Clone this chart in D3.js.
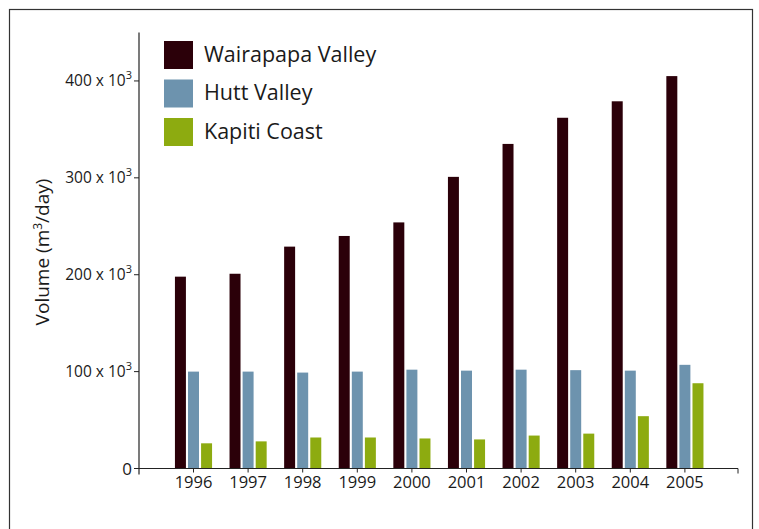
<!DOCTYPE html>
<html><head><meta charset="utf-8">
<script src="https://cdn.jsdelivr.net/npm/d3@7"></script>
<style>body{margin:0;background:#fff}svg{display:block}text{font-family:"Open Sans",sans-serif;fill:#1a1a1a}</style>
</head><body><svg id="c" width="759" height="529"></svg>
<script>
const years = ["1996","1997","1998","1999","2000","2001","2002","2003","2004","2005"];
const seriesNames = ["Wairapapa Valley","Hutt Valley","Kapiti Coast"];
const wairapapa = [198,201,229,240,254,301,335,362,379,405];
const hutt = [100,100,99,100,102,101,102,101.5,101,107];
const kapiti = [26,28,32,32,31,30,34,36,54,88];
const yTicks = [0,100,200,300,400];
const colors = ["#2b0009","#6d93ae","#8dab10"];

const values = [wairapapa, hutt, kapiti];
const svg = d3.select("#c");
svg.append("rect").attr("x",9.5).attr("y",9.5).attr("width",743).attr("height",530)
  .attr("fill","none").attr("stroke","#333").attr("stroke-width",1.2);

const y = d3.scaleLinear().domain([0,450]).range([468.5,32.5]);
const x = d3.scaleBand().domain(years).range([166.2,712.2]).paddingInner(0.32).paddingOuter(0.16);
const xs = d3.scaleBand().domain(seriesNames).range([0,x.bandwidth()]).paddingInner(0.16).paddingOuter(0);

const g = svg.append("g");
years.forEach((yr,i)=>{
  seriesNames.forEach((s,j)=>{
    g.append("rect").attr("x",x(yr)+xs(s)).attr("width",xs.bandwidth())
      .attr("y",y(values[j][i])).attr("height",y(0)-y(values[j][i])).attr("fill",colors[j]);
  });
});

// y axis
const ya = svg.append("g").attr("transform","translate(139,0)");
ya.append("line").attr("x1",0).attr("x2",0).attr("y1",y(450)).attr("y2",y(0)+6).attr("stroke","#222").attr("stroke-width",1.2);
yTicks.forEach(t=>{
  ya.append("line").attr("x1",-5).attr("x2",0).attr("y1",y(t)).attr("y2",y(t)).attr("stroke","#222").attr("stroke-width",1);
  const tx = ya.append("text").attr("x",-7).attr("y",y(t)+5).attr("text-anchor","end").style("font-size","15.5px");
  if(t===0){ tx.style("font-size","17px").attr("y",y(t)+6).text("0"); }
  else {
    tx.append("tspan").text(t+" x 10");
    tx.append("tspan").attr("dy",-7).style("font-size","11px").text("3");
  }
});
// x axis
const xa = svg.append("g");
xa.append("line").attr("x1",139).attr("x2",738).attr("y1",y(0)).attr("y2",y(0)).attr("stroke","#222").attr("stroke-width",1.2);
xa.append("line").attr("x1",738).attr("x2",738).attr("y1",y(0)).attr("y2",y(0)+5).attr("stroke","#222").attr("stroke-width",1);
years.forEach(yr=>{
  const cx = x(yr)+x.bandwidth()/2;
  xa.append("line").attr("x1",cx).attr("x2",cx).attr("y1",y(0)).attr("y2",y(0)+4).attr("stroke","#222");
  xa.append("text").attr("x",cx).attr("y",488).attr("text-anchor","middle").style("font-size","16.5px").text(yr);
});

// y title
const yt = svg.append("text").attr("transform","translate(49,252) rotate(-90)").attr("text-anchor","middle").style("font-size","19px");
yt.append("tspan").text("Volume (m");
yt.append("tspan").attr("dy",-7).style("font-size","12px").text("3");
yt.append("tspan").attr("dy",7).text("/day)");

// legend
seriesNames.forEach((s,j)=>{
  svg.append("rect").attr("x",164).attr("y",41+j*38.5).attr("width",29).attr("height",28).attr("fill",colors[j]);
  svg.append("text").attr("x",204).attr("y",61.5+j*38.5).style("font-size",  "21.5px").text(s);
});
</script></body></html>
